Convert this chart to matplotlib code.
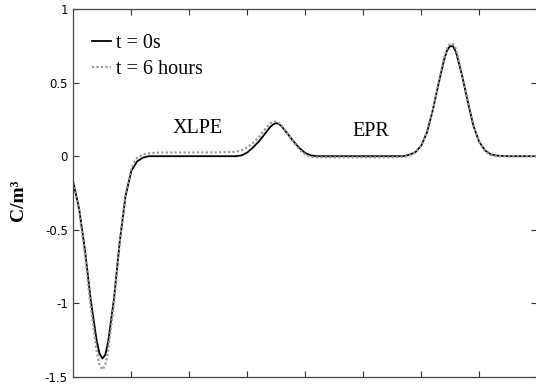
import matplotlib
matplotlib.use("Agg")
import matplotlib.pyplot as plt

# readings from the reference (x in tick intervals, y in C/m^3)
x = [0, 0.1, 0.2, 0.3, 0.4, 0.45, 0.5, 0.55, 0.6, 0.7, 0.8, 0.9, 1.0, 1.1, 1.2,
     1.3, 1.5,
     2.0, 2.5, 2.8, 2.9, 3.0, 3.1, 3.2, 3.3, 3.4, 3.45, 3.5, 3.55, 3.6, 3.7,
     3.8, 3.9, 4.0,
     4.1, 4.2, 4.5, 5.0, 5.5, 5.7, 5.8, 5.9, 6.0, 6.1, 6.2, 6.3, 6.4, 6.45,
     6.5, 6.55, 6.6,
     6.7, 6.8, 6.9, 7.0, 7.1, 7.2, 7.3, 7.5, 8.0]

rho_0 = [-0.18, -0.36, -0.64, -0.98, -1.25, -1.34, -1.375, -1.35, -1.26, -0.97,
         -0.58, -0.27, -0.10, -0.035, -0.01, 0.0, 0.0,
         0.0, 0.0, 0.0, 0.005, 0.025, 0.06, 0.10, 0.15, 0.20, 0.217, 0.225,
         0.218, 0.20, 0.15,
         0.10, 0.055, 0.022,
         0.005, 0.0, 0.0, 0.0, 0.0, 0.0, 0.01, 0.027, 0.07, 0.16, 0.31, 0.49,
         0.66, 0.72, 0.748, 0.747, 0.71,
         0.56, 0.38, 0.21, 0.10, 0.04, 0.013, 0.004, 0.0, 0.0]

rho_6h = [-0.18, -0.37, -0.67, -1.03, -1.32, -1.42, -1.45, -1.42, -1.32, -1.00,
          -0.58, -0.26, -0.08, -0.01, 0.012, 0.02, 0.025,
          0.025, 0.026, 0.03, 0.04, 0.06, 0.09, 0.13, 0.18, 0.225, 0.234, 0.235,
          0.224, 0.205, 0.15,
          0.095, 0.045, 0.012,
          -0.005, -0.008, -0.008, -0.008, -0.008, -0.005, 0.005, 0.025, 0.07,
          0.16, 0.31, 0.49, 0.67, 0.735, 0.765, 0.762, 0.73,
          0.57, 0.385, 0.21, 0.10, 0.035, 0.008, 0.0, 0.0, 0.0]

yticks = [-1.5, -1, -0.5, 0, 0.5, 1]
ytick_labels = ["-1.5", "-1", "-0.5", "0", "0.5", "1"]
xticks = [1, 2, 3, 4, 5, 6, 7]

serif = "Liberation Serif"
sans = "DejaVu Sans"

fig = plt.figure(figsize=(5.36, 3.85), dpi=100)
ax = fig.add_axes([73.4 / 536, 1 - 377 / 385, (537 - 73.4) / 536, (377 - 9) / 385])

ax.plot(x, rho_0, color="black", lw=1.3, label="t = 0s")
ax.plot(x, rho_6h, color="#999999", lw=1.6, ls=(0, (1, 1)), label="t = 6 hours")

ax.set_xlim(0, 8)
ax.set_ylim(-1.5, 1)
ax.set_xticks(xticks)
ax.set_xticklabels([])
ax.set_yticks(yticks)
ax.set_yticklabels(ytick_labels, fontfamily=sans, fontsize=8.5)
ax.tick_params(direction="in", length=4, width=0.8, top=True, right=True,
               color="#333333", pad=4)
for s in ax.spines.values():
    s.set_color("#444444")
    s.set_linewidth(0.9)

ax.set_ylabel("C/m³", fontfamily=serif, fontweight="bold", fontsize=14)
ax.yaxis.set_label_coords(-0.101, 0.48)

ax.text(2.14, 0.187, "XLPE", fontfamily=serif, fontsize=14.5, ha="center", va="center")
ax.text(5.14, 0.167, "EPR", fontfamily=serif, fontsize=14.5, ha="center", va="center")

leg = ax.legend(loc="upper left", frameon=False, prop={"family": serif, "size": 14.5},
                handlelength=0.95, handletextpad=0.25, labelspacing=0.3,
                borderpad=0, borderaxespad=0, bbox_to_anchor=(0.0395, 0.931))

fig.savefig("out.png", dpi=100)
